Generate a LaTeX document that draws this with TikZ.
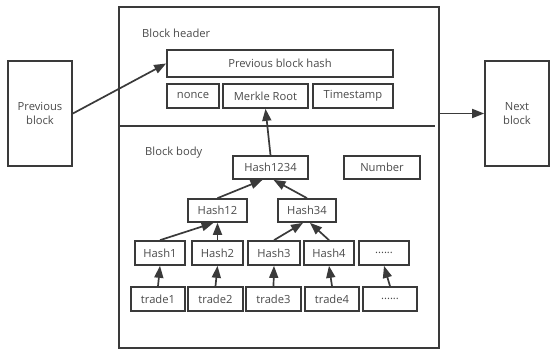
\documentclass[tikz,border=0pt]{standalone}
\usepackage{fontspec}
\setmainfont{Open Sans}
\usetikzlibrary{arrows.meta}
\definecolor{ink}{HTML}{3A3A3A}
\definecolor{txt}{HTML}{4A4A4A}
\tikzset{
  box/.style={draw=ink, line width=1.7pt, rectangle, inner sep=0pt,
    text=txt, font=\fontsize{11.2}{13.5}\selectfont, align=center},
  lbl/.style={text=txt, font=\fontsize{11.2}{13.5}\selectfont, inner sep=0pt, anchor=west},
  arr/.style={draw=ink, line width=1.7pt, -{Triangle[length=12pt,width=9pt]}},
}
\begin{document}
\begin{tikzpicture}[x=1pt,y=-1pt]
\useasboundingbox (0,0) rectangle (551,356);
% neighbouring blocks
\node[box, minimum width=64pt, minimum height=105pt] (prev) at (40,113.5) {Previous\\block};
\node[box, minimum width=64pt, minimum height=105pt] (nxt) at (517,113.5) {Next\\block};
% the block itself
\node[box, minimum width=320pt, minimum height=341pt] (blk) at (279,177.5) {};
\coordinate (divL) at (119,126);
\coordinate (divR) at (435,126);
\draw[ink, line width=1.7pt] (divL) -- (divR);
\node[lbl] (hdrlbl) at (142,33) {Block header};
\node[lbl] (bodylbl) at (145,153) {Block body};
% header fields
\node[box, minimum width=226pt, minimum height=27pt] (phash) at (280,63.5) {Previous block hash};
\node[box, minimum width=52pt, minimum height=24pt] (nonce) at (193,96) {nonce};
\node[box, minimum width=85pt, minimum height=24pt] (merkle) at (265.5,96) {Merkle Root};
\node[box, minimum width=80pt, minimum height=24pt] (tstamp) at (353,96) {Timestamp};
% body: merkle tree
\node[box, minimum width=75pt, minimum height=23pt] (h1234) at (270.5,167.5) {Hash1234};
\node[box, minimum width=76pt, minimum height=23pt] (number) at (382,167.5) {Number};
\node[box, minimum width=59pt, minimum height=23pt] (h12) at (217.5,210.5) {Hash12};
\node[box, minimum width=58pt, minimum height=23pt] (h34) at (307,210.5) {Hash34};
\node[box, minimum width=50pt, minimum height=24pt] (h1) at (160,253) {Hash1};
\node[box, minimum width=51pt, minimum height=24pt] (h2) at (217.5,253) {Hash2};
\node[box, minimum width=52pt, minimum height=24pt] (h3) at (274,253) {Hash3};
\node[box, minimum width=50pt, minimum height=24pt] (h4) at (329,253) {Hash4};
\node[box, minimum width=50pt, minimum height=24pt] (hd) at (384,253) {......};
\node[box, minimum width=54pt, minimum height=24pt] (t1) at (158,299) {trade1};
\node[box, minimum width=55pt, minimum height=24pt] (t2) at (215.5,299) {trade2};
\node[box, minimum width=55pt, minimum height=24pt] (t3) at (273.5,299) {trade3};
\node[box, minimum width=54pt, minimum height=24pt] (t4) at (332,299) {trade4};
\node[box, minimum width=54pt, minimum height=24pt] (td) at (390,299) {......};
% connectors
\draw[arr] (prev.east) -- (phash.west);
\draw[arr] (blk.east |- nxt.west) -- (nxt.west);
\draw[arr] (h1234.north) -- (merkle.south);
\draw[arr] (h12.north) -- ([xshift=-8pt]h1234.south);
\draw[arr] (h34.north) -- ([xshift=3pt]h1234.south);
\draw[arr] (h1.north) -- ([xshift=-4pt]h12.south);
\draw[arr] (h2.north) -- (h12.south);
\draw[arr] (h3.north) -- ([xshift=-4pt]h34.south);
\draw[arr] (h4.north) -- ([xshift=3pt]h34.south);
\draw[arr] (t1.north) -- (h1.south);
\draw[arr] (t2.north) -- (h2.south);
\draw[arr] (t3.north) -- (h3.south);
\draw[arr] (t4.north) -- (h4.south);
\draw[arr] (td.north) -- (hd.south);
\end{tikzpicture}
\end{document}
